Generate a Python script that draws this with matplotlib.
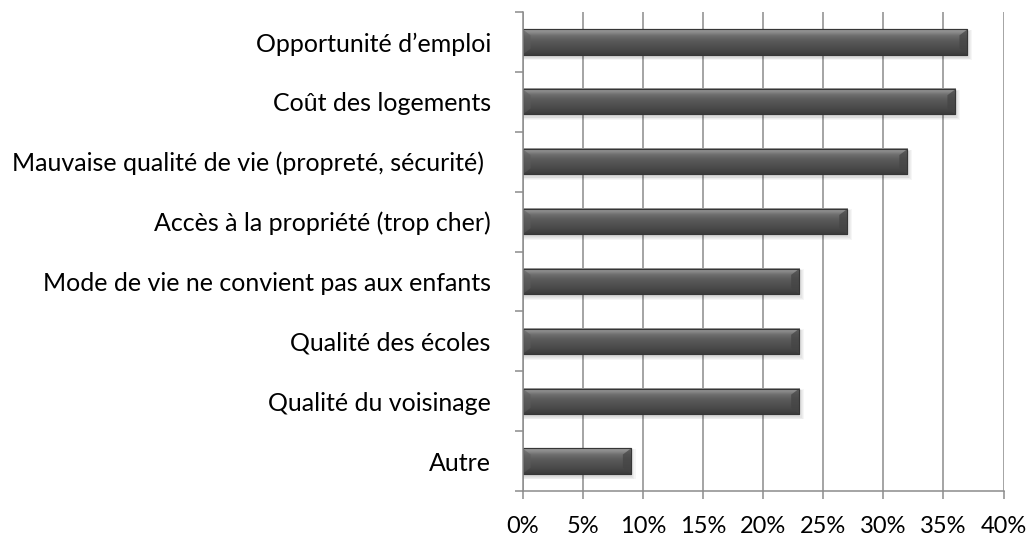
import matplotlib
matplotlib.use("Agg")
import matplotlib.pyplot as plt
import numpy as np
from matplotlib.patches import Polygon, Rectangle
from matplotlib.colors import LinearSegmentedColormap

categories = [
    "Opportunité d\u2019emploi",
    "Coût des logements",
    "Mauvaise qualité de vie (propreté, sécurité) ",
    "Accès à la propriété (trop cher)",
    "Mode de vie ne convient pas aux enfants",
    "Qualité des écoles",
    "Qualité du voisinage",
    "Autre",
]
values = [37, 36, 32, 27, 23, 23, 23, 9]
xticks = [0, 5, 10, 15, 20, 25, 30, 35, 40]
xticklabels = [f"{t}%" for t in xticks]

plt.rcParams['font.family'] = ['Lato', 'DejaVu Sans']

W, H = 1029, 538
fig = plt.figure(figsize=(W / 100, H / 100), dpi=100)
ax_l, ax_r, ax_t, ax_b = 522.7, 1003.5, 12, 491
ax = fig.add_axes([ax_l / W, 1 - ax_b / H, (ax_r - ax_l) / W, (ax_b - ax_t) / H])

n = len(categories)
ypos = np.arange(n)
bar_h = 0.42
xmax = 40
px_x = xmax / (ax_r - ax_l)
px_y = n / (ax_b - ax_t)

grid_c = "#8c8c8c"
for t in xticks:
    ax.axvline(t, color=grid_c, lw=1.1, zorder=1)

# soft shadow
for i, v in enumerate(values):
    y = ypos[i]
    for k in range(4, 0, -1):
        ax.add_patch(Rectangle((0, y - bar_h / 2 + 2 * px_y - (k - 1) * 0.5 * px_y),
                               v + k * 1.2 * px_x, bar_h + k * 1.3 * px_y,
                               facecolor="black", alpha=0.035, lw=0, zorder=2))

bars = ax.barh(ypos, values, height=bar_h, color="#505050", edgecolor="#383838", lw=0.8, zorder=3)

cmap = LinearSegmentedColormap.from_list("bev", [
    (0.0, "#9a9a9a"), (0.12, "#8a8a8a"), (0.25, "#6e6e6e"),
    (0.45, "#5a5a5a"), (0.75, "#4b4b4b"), (1.0, "#3c3c3c")])
grad = np.linspace(0, 1, 64).reshape(-1, 1)
bw = 8 * px_x
bh = 6 * px_y
for rect in bars:
    x0 = rect.get_x()
    v = rect.get_width()
    y0 = rect.get_y()
    y1 = y0 + rect.get_height()
    ax.imshow(grad, cmap=cmap, aspect="auto", extent=(x0, x0 + v, y1, y0),
              origin="upper", zorder=4, interpolation="bilinear")
    # right bevel face
    ax.add_patch(Polygon([(x0 + v - bw, y0 + bh), (x0 + v, y0), (x0 + v, y1), (x0 + v - bw, y1 - bh)],
                         closed=True, facecolor="#444444", alpha=0.7, lw=0, zorder=5))
    # left bevel face
    ax.add_patch(Polygon([(x0, y0), (x0 + bw, y0 + bh), (x0 + bw, y1 - bh), (x0, y1)],
                         closed=True, facecolor="#5c5c5c", alpha=0.5, lw=0, zorder=5))
    ax.add_patch(Rectangle((x0, y0), v, y1 - y0, facecolor="none", edgecolor="#363636", lw=0.8, zorder=6))

ax.set_xlim(0, xmax)
ax.set_ylim(n - 0.5, -0.5)

for s in ["top", "right"]:
    ax.spines[s].set_visible(False)
for s in ["left", "bottom"]:
    ax.spines[s].set_color(grid_c)
    ax.spines[s].set_linewidth(1.1)
    ax.spines[s].set_zorder(7)

ax.set_xticks(xticks)
ax.set_xticklabels(xticklabels, fontsize=17, color="black")
ax.tick_params(axis="x", length=6, width=1.1, color=grid_c, pad=12)

ax.set_yticks(np.arange(n + 1) - 0.5)
ax.set_yticklabels([])
ax.tick_params(axis="y", which="major", length=6, width=1.1, color=grid_c)
ax.set_yticks(ypos, minor=True)
ax.set_yticklabels(categories, minor=True, fontsize=18, color="black")
ax.tick_params(axis="y", which="minor", length=0, pad=23)

fig.savefig("out.png", dpi=100)
